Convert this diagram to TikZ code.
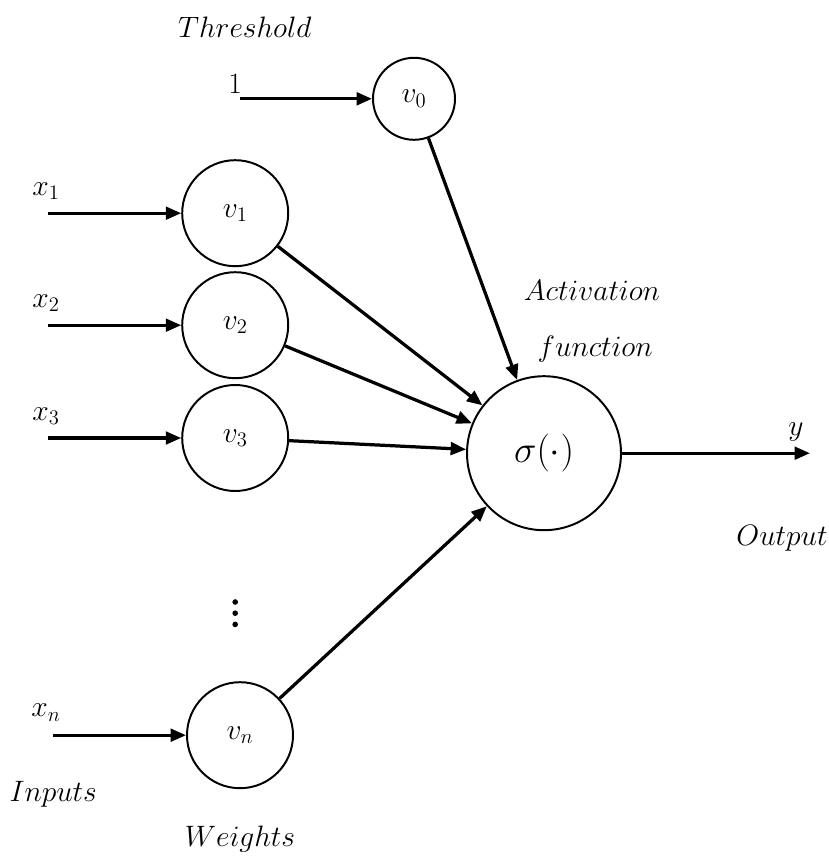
\RequirePackage{fix-cm}
\documentclass[tikz,border=0pt]{standalone}
\usepackage{amsmath}
\usepackage{amssymb}
\usepackage{tikz}
\usetikzlibrary{arrows.meta,positioning}

\begin{document}
\begin{tikzpicture}[
    font=\fontsize{21}{25}\selectfont,
    neuron/.style={circle, draw, line width=1.4pt, minimum size=2.65cm, inner sep=0pt},
    arrow/.style={-{Triangle[length=11pt,width=9pt]}, line width=2.3pt},
    dot/.style={circle, fill, inner sep=0pt, minimum size=4pt}
]
    \useasboundingbox (0,0) rectangle (20.7,-21.4);

    % weights and sum
    \node[neuron, minimum size=2.05cm] (v0) at (10.35,-2.47) {$v_0$};
    \node[neuron] (v1) at (5.88,-5.33) {$v_1$};
    \node[neuron] (v2) at (5.88,-8.13) {$v_2$};
    \node[neuron] (v3) at (5.88,-10.95) {$v_3$};
    \node[neuron] (vn) at (6.0,-18.38) {$v_n$};
    \node[neuron, minimum size=3.85cm, font=\fontsize{27}{31}\selectfont] (sum) at (13.6,-11.33) {$\sigma(\cdot)$};

    % vertical dots
    \node[dot] (d1) at (5.88,-15.05) {};
    \node[dot, below=0.28cm of d1.center, anchor=center] (d2) {};
    \node[dot, below=0.28cm of d2.center, anchor=center] (d3) {};

    % inputs
    \coordinate (i0) at (6.0,-2.47);
    \coordinate (i1) at (1.2,-5.33);
    \coordinate (i2) at (1.2,-8.13);
    \coordinate (i3) at (1.2,-10.95);
    \coordinate (in) at (1.32,-18.38);
    \coordinate (out) at (20.25,-11.33);

    \node (one) at (5.88,-2.1) {$1$};
    \node (x1) at (1.15,-4.78) {$x_1$};
    \node (x2) at (1.15,-7.58) {$x_2$};
    \node (x3) at (1.15,-10.4) {$x_3$};
    \node (xn) at (1.15,-17.82) {$x_n$};
    \node (y) at (19.9,-10.8) {$y$};

    % captions
    \node (thr) at (6.12,-0.68) {$Threshold$};
    \node (act) at (14.8,-7.25) {$Activation$};
    \node (fun) at (14.88,-8.72) {$function$};
    \node (outl) at (19.55,-13.45) {$Output$};
    \node (inl) at (1.33,-19.85) {$Inputs$};
    \node (wl) at (6.0,-20.98) {$Weights$};

    \draw[arrow] (i0) -- (v0);
    \draw[arrow] (i1) -- (v1);
    \draw[arrow] (i2) -- (v2);
    \draw[arrow] (i3) -- (v3);
    \draw[arrow] (in) -- (vn);
    \draw[arrow] (v0) -- (sum);
    \draw[arrow] (v1) -- (sum);
    \draw[arrow] (v2) -- (sum);
    \draw[arrow] (v3) -- (sum);
    \draw[arrow] (vn) -- (sum);
    \draw[arrow] (sum) -- (out);
\end{tikzpicture}
\end{document}
